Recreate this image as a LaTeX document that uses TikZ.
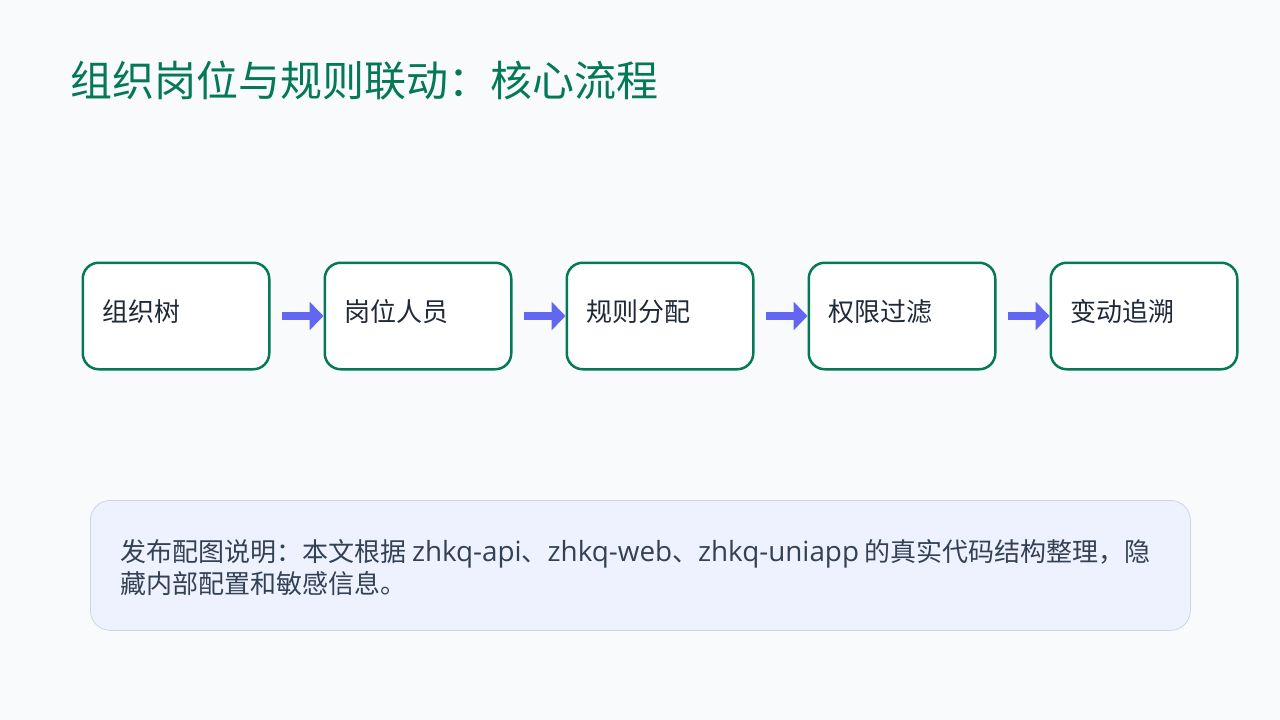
\documentclass[tikz,border=0pt]{standalone}
\usepackage{fontspec}
\setmainfont{Noto Sans CJK SC}
\newfontfamily\lat[Scale=1.07]{Open Sans}
\usetikzlibrary{arrows.meta}
\definecolor{bg}{HTML}{F8FAFC}
\definecolor{green}{HTML}{047857}
\definecolor{ink}{HTML}{1F2937}
\definecolor{arrowc}{HTML}{6366F1}
\definecolor{notefill}{HTML}{EEF2FF}
\definecolor{noteline}{HTML}{CBD5E1}
\definecolor{notetext}{HTML}{334155}
\begin{document}
\begin{tikzpicture}[x=1pt,y=-1pt,
  stepbox/.style={draw=green,line width=2.5pt,fill=white,rounded corners=16pt,
    minimum width=186.5pt,minimum height=106.5pt,inner sep=0pt,anchor=north west},
  steplabel/.style={font=\fontsize{26pt}{30pt}\selectfont,text=ink,anchor=west,inner sep=0pt},
  flow/.style={draw=arrowc,line width=8pt,-{Triangle[length=14pt,width=28pt]}}]
\fill[bg] (0,0) rectangle (1280,720);
\useasboundingbox (0,0) rectangle (1280,720);
\node[anchor=base west,inner sep=0pt,text=green,font=\fontsize{42pt}{48pt}\selectfont] (title) at (70,96) {组织岗位与规则联动：核心流程};
\foreach \i/\x/\t in {1/81/组织树,2/323/岗位人员,3/565/规则分配,4/807/权限过滤,5/1049/变动追溯}{
  \node[stepbox] (b\i) at (\x+0.5,261.5) {};
  \node[steplabel] (t\i) at (\x+21,312) {\t};
}
\foreach \a/\b in {1/2,2/3,3/4,4/5}{
  \draw[flow] ([xshift=11pt]b\a.east) -- (b\b.west);
}
\node[draw=noteline,line width=0.8pt,fill=notefill,rounded corners=20pt,
  minimum width=1100pt,minimum height=130pt,anchor=north west,inner sep=0pt] (note) at (90,500) {};
\node[anchor=north west,inner sep=0pt,text=notetext,align=left,
  font=\fontsize{26pt}{32pt}\selectfont] (notetxt) at (120,539)
  {发布配图说明：本文根据 {\lat zhkq-api}、{\lat zhkq-web}、{\lat zhkq-uniapp} 的真实代码结构整理，隐\\藏内部配置和敏感信息。};
\end{tikzpicture}
\end{document}
